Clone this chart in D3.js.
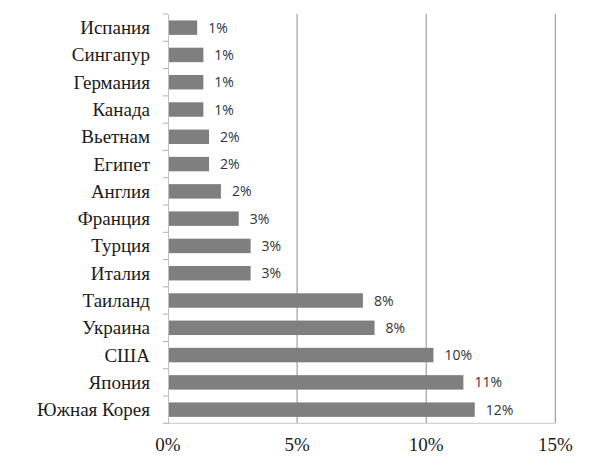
<!DOCTYPE html>
<html><head><meta charset="utf-8">
<script src="https://cdn.jsdelivr.net/npm/d3@7"></script>
<style>
body{margin:0;background:#fff}
@font-face{font-family:"ChartSerif";src:local("Liberation Serif"),local("LiberationSerif"),local("Liberation Serif Regular"),local("LiberationSerif-Regular");}
</style>
</head><body>
<svg id="c" width="611" height="468"></svg>
<script>
const categories = ["Испания","Сингапур","Германия","Канада","Вьетнам","Египет","Англия","Франция","Турция","Италия","Таиланд","Украина","США","Япония","Южная Корея"];
const values = [1.13,1.37,1.37,1.37,1.59,1.59,2.05,2.74,3.2,3.2,7.55,8.0,10.28,11.44,11.88];
const labels = ["1%","1%","1%","1%","2%","2%","2%","3%","3%","3%","8%","8%","10%","11%","12%"];
const xTicks = [0,5,10,15];

const svg = d3.select("#c");
const m = {left:168, top:14, right:55.7, bottom:44.7};
const W = 611, H = 468;
const SERIF = '"Times New Roman", "Liberation Serif", "ChartSerif", Tinos, serif';
const x = d3.scaleLinear().domain([0,15]).range([m.left, W - m.right]);
const y = d3.scaleBand().domain(categories).range([m.top, H - m.bottom]).paddingInner(0.47).paddingOuter(0.235);

// gridlines
svg.append("g").selectAll("line").data(xTicks.filter(d=>d>0)).join("line")
  .attr("x1",d=>x(d)).attr("x2",d=>x(d))
  .attr("y1",m.top).attr("y2",H-m.bottom)
  .attr("stroke","#8c8c8c").attr("stroke-width",1);

// bottom axis line
svg.append("line").attr("x1",m.left).attr("x2",x(15)).attr("y1",H-m.bottom).attr("y2",H-m.bottom)
  .attr("stroke","#c8c8c8");

// bars
svg.append("g").selectAll("rect").data(categories).join("rect")
  .attr("x",x(0)).attr("y",d=>y(d))
  .attr("width",(d,i)=>x(values[i])-x(0))
  .attr("height",y.bandwidth())
  .attr("fill","#7f7f7f");

// left axis line (domain only)
const yAxis = d3.axisLeft(y).tickSize(0).tickFormat("");
const gy = svg.append("g").attr("transform",`translate(${m.left},0)`).call(yAxis);
gy.select(".domain").attr("stroke","#c0c0c0");
gy.selectAll(".tick").remove();
// category labels
svg.append("g").attr("font-family",SERIF).selectAll("text").data(categories).join("text")
  .attr("x",m.left-18).attr("y",d=>y(d)+y.bandwidth()/2).attr("dy","0.34em")
  .attr("text-anchor","end")
  .attr("font-family",SERIF).style("font-family",SERIF).style("font-size","19px").attr("fill","#1a1a1a")
  .text(d=>d);
// category boundary ticks
const bounds = categories.map(c=>y(c)-y.step()*y.paddingInner()/2);
bounds.push(H-m.bottom);
svg.append("g").selectAll("line").data(bounds).join("line")
  .attr("x1",m.left-5).attr("x2",m.left).attr("y1",d=>d).attr("y2",d=>d)
  .attr("stroke","#b0b0b0");

// value labels
svg.append("g").selectAll("text").data(categories).join("text")
  .attr("x",(d,i)=>x(values[i])+11)
  .attr("y",d=>y(d)+y.bandwidth()/2)
  .attr("dy","0.36em")
  .style("font-family",'"Open Sans"').style("font-size","14px").attr("fill","#333")
  .text((d,i)=>labels[i]);

// x axis tick labels
svg.append("g").attr("font-family",SERIF).selectAll("text").data(xTicks).join("text")
  .attr("x",d=>x(d)).attr("y",H-m.bottom+28)
  .attr("text-anchor","middle")
  .attr("font-family",SERIF).style("font-family",SERIF).style("font-size","19px").attr("fill","#1a1a1a")
  .text(d=>d+"%");
</script>
</body></html>
